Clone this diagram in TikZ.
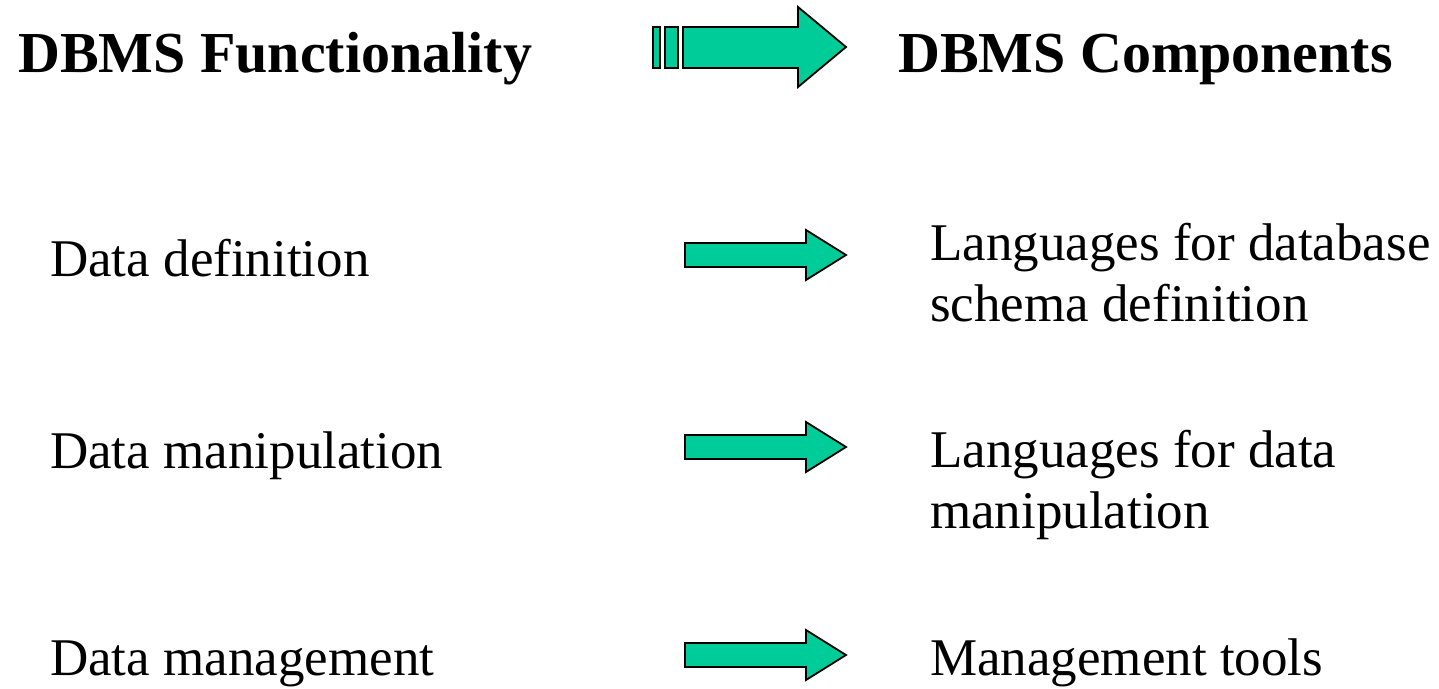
\documentclass[tikz,border=0pt]{standalone}
\usepackage{fontspec}
\setmainfont{Liberation Serif}
\usetikzlibrary{positioning}
\definecolor{arrowgreen}{RGB}{0,204,153}

\begin{document}
\begin{tikzpicture}[x=1pt,y=-1pt,
  title/.style={anchor=base west,inner sep=0pt,font=\fontsize{58}{70}\selectfont\bfseries},
  item/.style={anchor=base west,inner sep=0pt,align=left,font=\fontsize{53}{61}\selectfont},
  fat/.style={draw=black,line width=1.8pt,fill=arrowgreen,line join=miter}]
 \useasboundingbox (0,0) rectangle (1439,688);
 % headings
 \node[title] (func) at (18,72) {DBMS Functionality};
 \node[title] (comp) at (898,72) {DBMS Components};
 % big arrow with bars
 \draw[fat](653,27) rectangle (660,68);
 \draw[fat](665,27) rectangle (678,68);
 \draw[fat](683,27)--(798,27)--(798,7)--(846,47)--(798,87)--(798,68)--(683,68)--cycle;
 % rows (base of a two-line node is its last line)
 \node[item] (ddef) at (50,276) {Data definition};
 \node[item] (dman) at (50,468) {Data manipulation};
 \node[item] (dmgt) at (50,675) {Data management};
 \node[item] (lschema) at (930,321) {Languages for database\\schema definition};
 \node[item] (lmanip) at (930,528) {Languages for data\\manipulation};
 \node[item] (tools) at (930,675) {Management tools};
 % small arrows
 \foreach \y in {255,447,655}
  \draw[fat](685,\y-12)--(806,\y-12)--(806,\y-25)--(846,\y)--(806,\y+25)--(806,\y+12)--(685,\y+12)--cycle;
\end{tikzpicture}
\end{document}
